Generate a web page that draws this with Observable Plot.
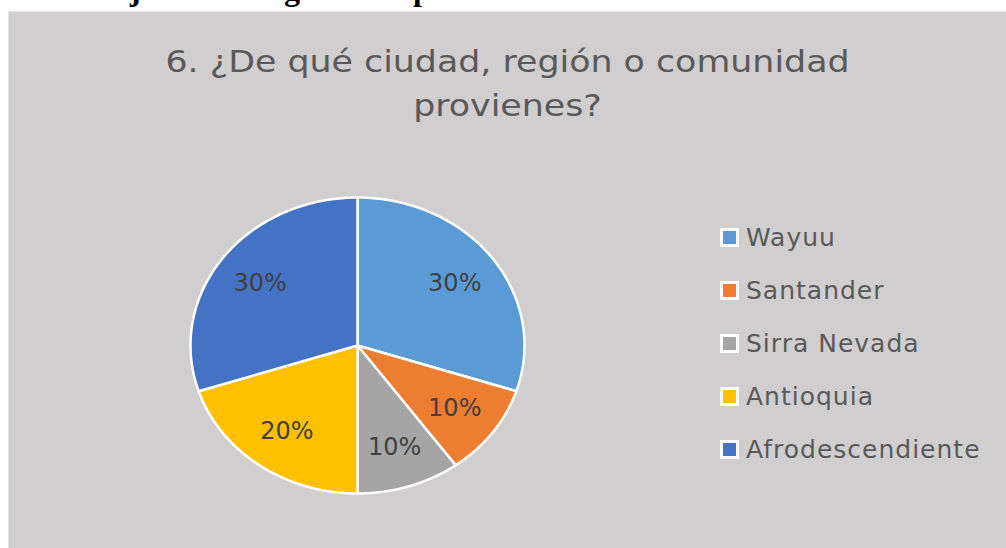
<!DOCTYPE html>
<html>
<head>
<meta charset="utf-8">
<script src="https://cdn.jsdelivr.net/npm/d3@7"></script>
<script src="https://cdn.jsdelivr.net/npm/@observablehq/plot@0.6"></script>
<style>
  html, body { margin: 0; padding: 0; background: #ffffff; width: 1006px; height: 548px; overflow: hidden; position: relative; }
  #caption { position: absolute; left: 8px; top: -25px; font: bold 32px "Liberation Serif", serif; color: #000; line-height: 28px; white-space: nowrap; }
  #panel { position: absolute; left: 8px; top: 11px; width: 998px; height: 537px; background: #d0cecf; border-top: 1px solid #e2e2e2; border-left: 1px solid #e2e2e2; box-sizing: border-box; }
  #title { position: absolute; left: 0; top: 28px; width: 997px; text-align: center; font: 30px "DejaVu Sans", sans-serif; color: #595959; line-height: 44px; transform: scaleX(1.16); transform-origin: 50% 50%; }
  #pie { position: absolute; left: 161px; top: 165px; }
  #legend { position: absolute; left: 711px; top: 199px; }
  #legend .leg-swatches { font-family: "DejaVu Sans", sans-serif; font-size: 25px; color: #595959; margin: 0; }
  #legend .leg-swatch { height: 53px; padding: 0; display: flex; align-items: center; }
  #legend .leg-swatch > svg { border: 3px solid #ffffff; margin-right: 7px; }
  #legend .leg-swatch-label { overflow: visible; letter-spacing: 1px; }
</style>
</head>
<body>
<div id="caption"></div>
<div id="panel">
  <div id="title"></div>
  <div id="pie"></div>
  <div id="legend"></div>
</div>
<script>
// ---- data ----
const captionText = "Porcentaje sobre origen de la población estudiantil.";
const titleLines = ["6. ¿De qué ciudad, región o comunidad", "provienes?"];
const categories = ["Wayuu", "Santander", "Sirra Nevada", "Antioquia", "Afrodescendiente"];
const percentages = [30, 10, 10, 20, 30];
const colors = ["#5B9BD5", "#ED7D31", "#A5A5A5", "#FFC000", "#4472C4"];

document.getElementById("caption").textContent = captionText;
document.getElementById("title").innerHTML = titleLines.map(t => `<div>${t}</div>`).join("");

// pie geometry from d3.pie (angles clockwise from 12 o'clock)
const arcs = d3.pie().sort(null).value(d => d.value)(
  categories.map((c, i) => ({category: c, value: percentages[i]}))
);
const steps = 120;
const outline = [];
arcs.forEach(a => {
  const cat = a.data.category;
  outline.push({category: cat, x: 0, y: 0});
  for (let k = 0; k <= steps; k++) {
    const t = a.startAngle + (a.endAngle - a.startAngle) * k / steps;
    outline.push({category: cat, x: Math.sin(t), y: Math.cos(t)});
  }
});
const labelR = 0.72;
const labels = arcs.map(a => {
  const m = (a.startAngle + a.endAngle) / 2;
  return {x: labelR * Math.sin(m), y: labelR * Math.cos(m), text: a.data.value + "%"};
});

const colorScale = {domain: categories, range: colors};

const pie = Plot.plot({
  width: 374,
  height: 336,
  marginLeft: 20, marginRight: 20, marginTop: 20, marginBottom: 20,
  x: {domain: [-1, 1], axis: null},
  y: {domain: [-1, 1], axis: null},
  color: colorScale,
  style: {background: "transparent", fontFamily: "DejaVu Sans, sans-serif", overflow: "visible"},
  marks: [
    Plot.line(outline, {x: "x", y: "y", z: "category", fill: "category", stroke: "#ffffff", strokeWidth: 2.5, strokeLinejoin: "round", curve: "linear-closed"}),
    Plot.text(labels, {x: "x", y: "y", text: "text", fontSize: 24, fill: "#404040"})
  ]
});
document.getElementById("pie").appendChild(pie);

const legend = Plot.legend({
  color: colorScale,
  legend: "swatches",
  columns: 1,
  swatchSize: 13,
  className: "leg"
});
document.getElementById("legend").appendChild(legend);
</script>
</body>
</html>
